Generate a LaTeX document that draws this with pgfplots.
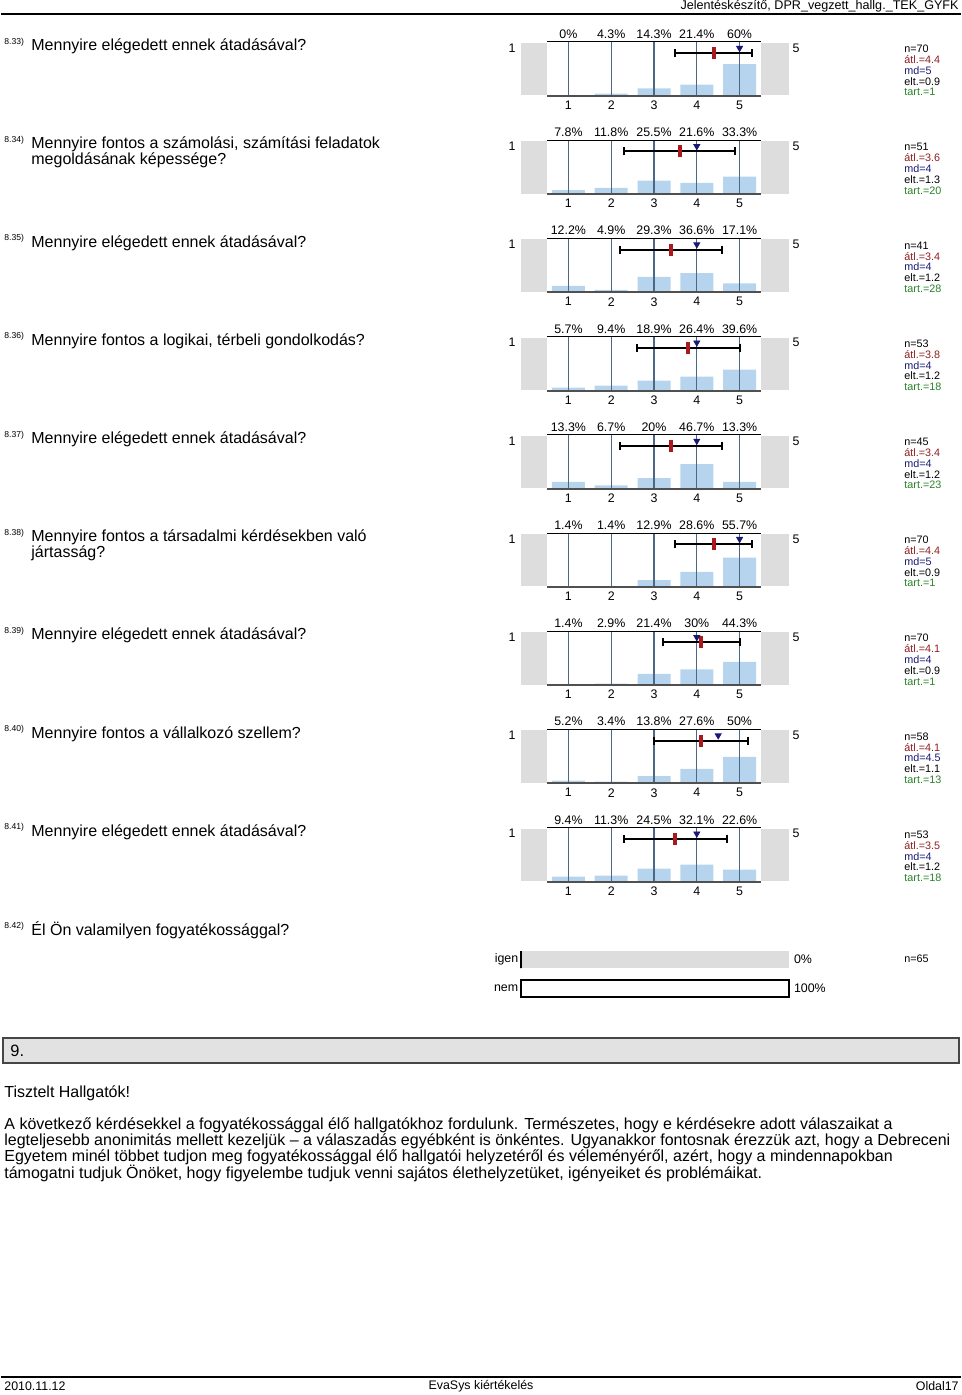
\documentclass[border=0pt]{standalone}
\usepackage{fontspec}
\setmainfont{Liberation Sans}
\usepackage{pgfplots}
\pgfplotsset{compat=1.18}

\definecolor{barblue}{RGB}{182,212,237}
\definecolor{sidegray}{RGB}{221,221,221}
\definecolor{gridc}{RGB}{75,105,135}
\definecolor{meanred}{RGB}{170,25,30}
\definecolor{mdnavy}{RGB}{25,25,115}
\definecolor{atlred}{RGB}{140,30,30}
\definecolor{tartgreen}{RGB}{40,130,40}
\definecolor{botline}{RGB}{80,80,80}
\definecolor{boxgray}{RGB}{226,226,226}
\definecolor{boxborder}{RGB}{70,70,70}

\newcommand\fs[1]{\fontsize{#1}{#1}\selectfont}

\pgfplotsset{likert/.style={
  anchor=north west, width=107pt, height=27pt, scale only axis,
  xmin=0.5, xmax=5.5, ymin=0, ymax=102, clip=false,
  axis line style={draw=none}, tick style={draw=none},
  ytick=\empty, xtick={1,2,3,4,5},
  xticklabel style={font=\fs{6.2}, inner sep=2.3pt},
  /pgf/number format/assume math mode=true,
}}

% #1 top (px), #2-#6 percentages, #7 mean, #8 sd, #9 median
\newcommand\likert[9]{%
\begin{axis}[likert, at={({273pt},{-(#1)*0.5pt})}]
 \fill[sidegray] (axis cs:-0.107,1) rectangle (axis cs:0.5,100);
 \fill[sidegray] (axis cs:5.5,1) rectangle (axis cs:6.154,100);
 \addplot[ybar, bar width=16.5pt, fill=barblue, draw=none, point meta=y,
   nodes near coords={\pgfmathprintnumber[fixed,precision=1]{\pgfplotspointmeta}\%},
   visualization depends on=y \as \ry,
   every node near coord/.append style={font=\fs{6.2}, anchor=south, inner sep=1.5pt,
     shift={(axis direction cs:0,{102-\ry})}}]
   coordinates {(1,#2) (2,#3) (3,#4) (4,#5) (5,#6)};
 \draw[gridc, line width=0.65pt] (axis cs:1,0) -- (axis cs:1,102);
 \draw[gridc, line width=0.65pt] (axis cs:2,0) -- (axis cs:2,102);
 \draw[gridc, line width=0.65pt] (axis cs:3,0) -- (axis cs:3,102);
 \draw[gridc, line width=0.65pt] (axis cs:4,0) -- (axis cs:4,102);
 \draw[gridc, line width=0.65pt] (axis cs:5,0) -- (axis cs:5,102);
 \draw[black, line width=0.5pt] (rel axis cs:0,1) -- (rel axis cs:1,1);
 \draw[botline, line width=1pt] (rel axis cs:0,0) -- (rel axis cs:1,0);
 \addplot[black, line width=1pt, mark=none,
   error bars/.cd, x dir=both, x explicit,
   error bar style={line width=1pt, black}, error mark=|,
   error mark options={black, line width=1pt, mark size=2pt}]
   coordinates {(#7,81) +- (#8,0)};
 \addplot[only marks, mark=|, mark size=3pt, meanred, line width=2pt] coordinates {(#7,81)};
 \addplot[only marks, mark=triangle*, mark size=1.7pt, mdnavy, mark options={rotate=180}] coordinates {(#9,90.5)};
\end{axis}
\begin{scope}[x=0.5pt,y=-0.5pt]
 \node[font=\fs{6.2}] at (511,#1+6) {1};
 \node[font=\fs{6.2}] at (795,#1+6) {5};
\end{scope}}

% #1 top, #2 n, #3 mean, #4 md, #5 sd, #6 tart
\newcommand\stats[6]{%
\begin{scope}[x=0.5pt,y=-0.5pt,every node/.style={anchor=west, font=\fs{5.4}, inner sep=0pt}]
 \node at (903,#1+7) {n=#2};
 \node[text=atlred] at (903,#1+17.8) {átl.=#3};
 \node[text=mdnavy] at (903,#1+28.6) {md=#4};
 \node at (903,#1+39.4) {elt.=#5};
 \node[text=tartgreen] at (903,#1+50.2) {tart.=#6};
\end{scope}}

% #1 y centre, #2 number, #3 text
\newcommand\question[3]{%
\begin{scope}[x=0.5pt,y=-0.5pt]
 \node[anchor=west, font=\fs{4.3}, inner sep=0pt] at (3,#1-2) {#2};
 \node[anchor=west, font=\fs{8}, inner sep=0pt] at (30,#1+2.5) {#3};
\end{scope}}

\begin{document}
\begin{tikzpicture}
\begin{scope}[x=0.5pt,y=-0.5pt]
\path[use as bounding box] (0,0) rectangle (960,1395);
\node[anchor=east, font=\fs{6.3}, inner sep=0pt] at (958,6.5) {Jelentéskészítő, DPR\_vegzett\_hallg.\_TEK\_GYFK};
\draw[line width=1pt] (0,14.5) -- (960,14.5);
\end{scope}

\question{44}{8.33)}{Mennyire elégedett ennek átadásával?}
\likert{42}{0}{4.3}{14.3}{21.4}{60}{4.4}{0.9}{5}
\stats{42}{70}{4.4}{5}{0.9}{1}

\question{142.2}{8.34)}{Mennyire fontos a számolási, számítási feladatok}
\begin{scope}[x=0.5pt,y=-0.5pt]
\node[anchor=west, font=\fs{8}, inner sep=0pt] at (30,160.7) {megoldásának képessége?};
\end{scope}
\likert{140.2}{7.8}{11.8}{25.5}{21.6}{33.3}{3.6}{1.3}{4}
\stats{140.2}{51}{3.6}{4}{1.3}{20}

\question{240.4}{8.35)}{Mennyire elégedett ennek átadásával?}
\likert{238.4}{12.2}{4.9}{29.3}{36.6}{17.1}{3.4}{1.2}{4}
\stats{238.4}{41}{3.4}{4}{1.2}{28}

\question{338.6}{8.36)}{Mennyire fontos a logikai, térbeli gondolkodás?}
\likert{336.6}{5.7}{9.4}{18.9}{26.4}{39.6}{3.8}{1.2}{4}
\stats{336.6}{53}{3.8}{4}{1.2}{18}

\question{436.8}{8.37)}{Mennyire elégedett ennek átadásával?}
\likert{434.8}{13.3}{6.7}{20}{46.7}{13.3}{3.4}{1.2}{4}
\stats{434.8}{45}{3.4}{4}{1.2}{23}

\question{535}{8.38)}{Mennyire fontos a társadalmi kérdésekben való}
\begin{scope}[x=0.5pt,y=-0.5pt]
\node[anchor=west, font=\fs{8}, inner sep=0pt] at (30,553.5) {jártasság?};
\end{scope}
\likert{533}{1.4}{1.4}{12.9}{28.6}{55.7}{4.4}{0.9}{5}
\stats{533}{70}{4.4}{5}{0.9}{1}

\question{633.2}{8.39)}{Mennyire elégedett ennek átadásával?}
\likert{631.2}{1.4}{2.9}{21.4}{30}{44.3}{4.1}{0.9}{4}
\stats{631.2}{70}{4.1}{4}{0.9}{1}

\question{731.4}{8.40)}{Mennyire fontos a vállalkozó szellem?}
\likert{729.4}{5.2}{3.4}{13.8}{27.6}{50}{4.1}{1.1}{4.5}
\stats{729.4}{58}{4.1}{4.5}{1.1}{13}

\question{829.6}{8.41)}{Mennyire elégedett ennek átadásával?}
\likert{827.6}{9.4}{11.3}{24.5}{32.1}{22.6}{3.5}{1.2}{4}
\stats{827.6}{53}{3.5}{4}{1.2}{18}

\question{927.8}{8.42)}{Él Ön valamilyen fogyatékossággal?}
\begin{axis}[anchor=north west, at={({260pt},{-945*0.5pt})}, width=134pt, height=29pt,
  scale only axis, xmin=0, xmax=100, ymin=0.5, ymax=2.5, clip=false,
  axis line style={draw=none}, tick style={draw=none}, xtick=\empty,
  ytick={1,2}, yticklabels={nem,igen}, yticklabel style={font=\fs{6.2}, inner sep=1.2pt},
  /pgf/number format/assume math mode=true]
 \fill[sidegray] (axis cs:0,1.7) rectangle (axis cs:100,2.3);
 \addplot[xbar, bar width=8.5pt, fill=white, draw=black, line width=1pt, point meta=x,
   nodes near coords={\pgfmathprintnumber[fixed,precision=1]{\pgfplotspointmeta}\%},
   visualization depends on=x \as \rx,
   every node near coord/.append style={font=\fs{6.2}, anchor=west, inner sep=2pt,
     shift={(axis direction cs:{100-\rx},0)}}]
   coordinates {(0,2) (100,1)};
\end{axis}

\begin{scope}[x=0.5pt,y=-0.5pt]
\node[anchor=west, font=\fs{5.4}, inner sep=0pt] at (903,959) {n=65};
\draw[fill=boxgray, draw=boxborder, line width=0.8pt] (2,1038) rectangle (958,1063);
\node[anchor=west, font=\fs{8.2}, inner sep=0pt] at (9,1051) {9.};
\node[anchor=west, font=\fs{8}, inner sep=0pt] at (3,1093.5) {Tisztelt Hallgatók!};
\node[anchor=west, font=\fs{8}, inner sep=0pt] at (3,1125.5) {A következő kérdésekkel a fogyatékossággal élő hallgatókhoz fordulunk. Természetes, hogy e kérdésekre adott válaszaikat a};
\node[anchor=west, font=\fs{8}, inner sep=0pt] at (3,1141.5) {legteljesebb anonimitás mellett kezeljük – a válaszadás egyébként is önkéntes. Ugyanakkor fontosnak érezzük azt, hogy a Debreceni};
\node[anchor=west, font=\fs{8}, inner sep=0pt] at (3,1157.5) {Egyetem minél többet tudjon meg fogyatékossággal élő hallgatói helyzetéről és véleményéről, azért, hogy a mindennapokban};
\node[anchor=west, font=\fs{8}, inner sep=0pt] at (3,1173.5) {támogatni tudjuk Önöket, hogy figyelembe tudjuk venni sajátos élethelyzetüket, igényeiket és problémáikat.};
\draw[line width=1pt] (0,1377) -- (960,1377);
\node[anchor=west, font=\fs{6.2}, inner sep=0pt] at (3,1386.5) {2010.11.12};
\node[font=\fs{6.2}, inner sep=0pt] at (480,1386.5) {EvaSys kiértékelés};
\node[anchor=east, font=\fs{6.2}, inner sep=0pt] at (958,1386.5) {Oldal17};
\end{scope}
\end{tikzpicture}
\end{document}
